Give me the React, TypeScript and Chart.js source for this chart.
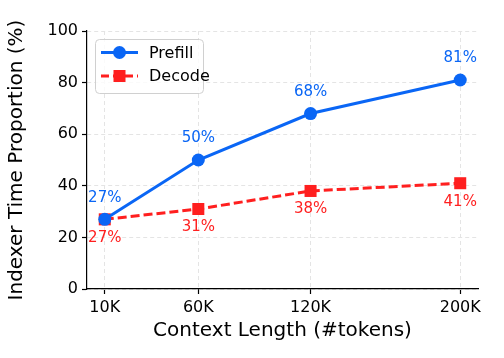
import React, { useEffect, useRef } from 'react';
import { Chart, registerables } from 'chart.js';
Chart.register(...registerables);

const contextK = [10, 60, 120, 200];
const xTickValues = [10, 60, 120, 200];
const prefill = [27, 50, 68, 81];
const decode = [27, 31, 38, 41];
const yTickValues = [0, 20, 40, 60, 80, 100];
const seriesNames = ['Prefill', 'Decode'];
const xTitle = 'Context Length (#tokens)';
const yTitle = 'Indexer Time Proportion (%)';

const BLUE = '#0a66f5';
const RED = '#ff1f1f';
const FONT = '"DejaVu Sans", sans-serif';

const labelPlugin = {
  id: 'pointLabels',
  afterDatasetsDraw(chart: any) {
    const ctx = chart.ctx;
    ctx.save();
    ctx.font = `15px ${FONT}`;
    ctx.textAlign = 'center';
    ctx.textBaseline = 'middle';
    chart.data.datasets.forEach((ds: any, i: number) => {
      const meta = chart.getDatasetMeta(i);
      meta.data.forEach((pt: any, j: number) => {
        ctx.fillStyle = ds.borderColor;
        const off = i === 0 ? -21.5 : 18.5;
        ctx.fillText(`${ds.data[j].y}%`, pt.x, pt.y + off);
      });
    });
    ctx.restore();
  },
};

const titlePlugin = {
  id: 'axisTitles',
  afterDraw(chart: any) {
    const ctx = chart.ctx;
    const a = chart.chartArea;
    ctx.save();
    ctx.fillStyle = '#000';
    ctx.font = `20px ${FONT}`;
    ctx.textAlign = 'center';
    ctx.textBaseline = 'middle';
    ctx.fillText(xTitle, (a.left + a.right) / 2, 331);
    ctx.translate(17, (a.top + a.bottom) / 2);
    ctx.rotate(-Math.PI / 2);
    ctx.fillText(yTitle, 0, 0);
    ctx.restore();
  },
};

const legendPlugin = {
  id: 'mplLegend',
  afterDraw(chart: any) {
    const ctx = chart.ctx;
    ctx.save();
    const x = 95.5, y = 39.5, w = 108, h = 54, r = 4;
    ctx.beginPath();
    ctx.moveTo(x + r, y);
    ctx.arcTo(x + w, y, x + w, y + h, r);
    ctx.arcTo(x + w, y + h, x, y + h, r);
    ctx.arcTo(x, y + h, x, y, r);
    ctx.arcTo(x, y, x + w, y, r);
    ctx.closePath();
    ctx.fillStyle = 'rgba(255,255,255,0.8)';
    ctx.fill();
    ctx.strokeStyle = '#d0d0d0';
    ctx.lineWidth = 1;
    ctx.stroke();
    const rows = [52.5, 76];
    chart.data.datasets.forEach((ds: any, i: number) => {
      const ry = rows[i];
      ctx.strokeStyle = ds.borderColor;
      ctx.lineWidth = 3;
      ctx.setLineDash(i === 1 ? [8, 4] : []);
      ctx.beginPath();
      ctx.moveTo(101, ry);
      ctx.lineTo(138, ry);
      ctx.stroke();
      ctx.setLineDash([]);
      ctx.fillStyle = ds.borderColor;
      if (i === 0) {
        ctx.beginPath();
        ctx.arc(119.5, ry, 6.5, 0, Math.PI * 2);
        ctx.fill();
      } else {
        ctx.fillRect(119.5 - 6, ry - 6, 12, 12);
      }
      ctx.fillStyle = '#000';
      ctx.font = `16px ${FONT}`;
      ctx.textAlign = 'left';
      ctx.textBaseline = 'middle';
      ctx.fillText(ds.label, 149, ry + 1);
    });
    ctx.restore();
  },
};

export default function App() {
  const ref = useRef<HTMLCanvasElement>(null);
  useEffect(() => {
    document.body.style.margin = '0';
    const chart = new Chart(ref.current!, {
      type: 'line',
      data: {
        datasets: [
          {
            label: seriesNames[0],
            data: contextK.map((k, i) => ({ x: k, y: prefill[i] })),
            borderColor: BLUE,
            backgroundColor: BLUE,
            borderWidth: 3,
            pointStyle: 'circle',
            pointRadius: 6.5,
            pointBorderWidth: 0,
            fill: false,
          },
          {
            label: seriesNames[1],
            data: contextK.map((k, i) => ({ x: k, y: decode[i] })),
            borderColor: RED,
            backgroundColor: RED,
            borderWidth: 3,
            borderDash: [9, 4],
            pointStyle: 'rect',
            pointRadius: 8.5,
            pointBorderWidth: 0,
            fill: false,
          },
        ],
      },
      options: {
        responsive: false,
        animation: false,
        devicePixelRatio: 1,
        layout: { padding: { top: 31, right: 26, left: 0, bottom: 0 } },
        plugins: { legend: { display: false }, tooltip: { enabled: false } },
        scales: {
          x: {
            type: 'linear',
            min: 0.5,
            max: 209.5,
            afterFit: (s: any) => { s.height = 69; },
            afterBuildTicks: (s: any) => { s.ticks = xTickValues.map((v) => ({ value: v })); },
            ticks: {
              color: '#000',
              font: { family: 'DejaVu Sans', size: 16 },
              padding: 4,
              maxRotation: 0,
              callback: (v: any) => `${v}K`,
            },
            grid: {
              color: '#e4e4e4',
              lineWidth: 1,
              tickLength: 5,
              tickColor: '#000',
              tickWidth: 1.2,
              tickBorderDash: [],
            },
            border: { display: true, color: '#000', width: 1.2, dash: [4, 3] },
          },
          y: {
            type: 'linear',
            min: 0,
            max: 100,
            afterFit: (s: any) => { s.width = 87; },
            afterBuildTicks: (s: any) => { s.ticks = yTickValues.map((v) => ({ value: v })); },
            ticks: {
              color: '#000',
              font: { family: 'DejaVu Sans', size: 16 },
              padding: 4,
            },
            grid: {
              color: '#e4e4e4',
              lineWidth: 1,
              tickLength: 5,
              tickColor: '#000',
              tickWidth: 1.2,
              tickBorderDash: [],
            },
            border: { display: true, color: '#000', width: 1.2, dash: [4, 3] },
          },
        },
      },
      plugins: [labelPlugin, titlePlugin, legendPlugin],
    } as any);
    return () => chart.destroy();
  }, []);
  return (
    <div style={{ width: 504, height: 358, background: '#fff' }}>
      <canvas ref={ref} width={504} height={358} />
    </div>
  );
}
